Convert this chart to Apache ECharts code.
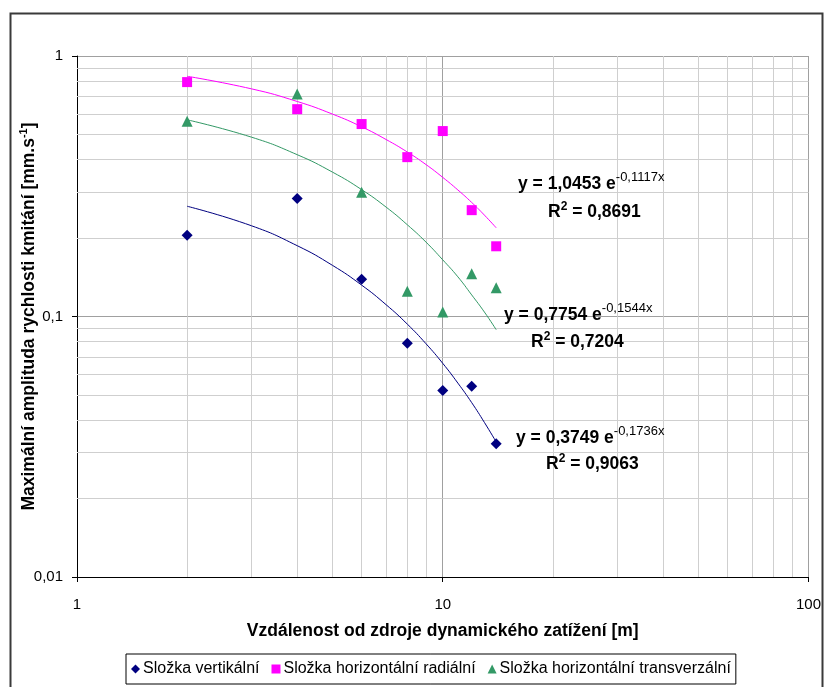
<!DOCTYPE html>
<html>
<head>
<meta charset="utf-8">
<script src="https://cdn.jsdelivr.net/npm/echarts@6/dist/echarts.min.js"></script>
<style>html,body{margin:0;padding:0;background:#fff;}#c{width:824px;height:687px;}</style>
</head>
<body>
<div id="c"></div>
<script>
// ---- data ----
const distances = [2, 4, 6, 8, 10, 12, 14];
const vertical = [0.205, 0.284, 0.139, 0.079, 0.052, 0.054, 0.0325];
const radial = [0.794, 0.625, 0.548, 0.409, 0.515, 0.256, 0.186];
const transverse = [0.562, 0.714, 0.300, 0.125, 0.104, 0.146, 0.129];

// trend curves (read along the drawn trendlines)
const trendX = [2, 3, 4, 5, 6, 7, 8, 9, 10, 11, 12, 13, 14];
const trendVertical = [0.265, 0.223, 0.187, 0.157, 0.132, 0.111, 0.0935, 0.0786, 0.0661, 0.0555, 0.0467, 0.0392, 0.033];
const trendRadial = [0.836, 0.748, 0.669, 0.598, 0.535, 0.478, 0.428, 0.383, 0.342, 0.306, 0.274, 0.245, 0.219];
const trendTransverse = [0.569, 0.488, 0.418, 0.358, 0.307, 0.263, 0.225, 0.193, 0.165, 0.142, 0.121, 0.104, 0.089];

const seriesNames = ['Složka vertikální', 'Složka horizontální radiální', 'Složka horizontální transverzální'];
const xMinorGrid = [2, 3, 4, 5, 6, 7, 8, 9, 20, 30, 40, 50, 60, 70, 80, 90];
const yMinorGrid = [0.02, 0.03, 0.04, 0.05, 0.06, 0.07, 0.08, 0.09, 0.2, 0.3, 0.4, 0.5, 0.6, 0.7, 0.8, 0.9];

const equations = [
  { a: '1,0453', b: '-0,1117x', r: '0,8691' },
  { a: '0,7754', b: '-0,1544x', r: '0,7204' },
  { a: '0,3749', b: '-0,1736x', r: '0,9063' }
];

const FONT = '"Liberation Sans", Arial, sans-serif';
const pair = (xs, ys) => xs.map((x, i) => [x, ys[i]]);
const fmt = v => String(v).replace('.', ',');

const chart = echarts.init(document.getElementById('c'), null, { renderer: 'canvas' });

const eqPos = [
  { x: 518, y: 184, rx: 548, ry: 212 },
  { x: 504, y: 315, rx: 531, ry: 342 },
  { x: 516, y: 438, rx: 546, ry: 464 }
];
const richEq = {
  m: { fontFamily: FONT, fontSize: 17.5, fontWeight: 'bold', fill: '#000' },
  s: { fontFamily: FONT, fontSize: 13, fill: '#000', padding: [0, 0, 13, 0] },
  r: { fontFamily: FONT, fontSize: 12, fontWeight: 'bold', fill: '#000', padding: [0, 0, 11, 0] }
};
const graphics = [{
  type: 'rect', left: 8, top: 11, shape: { width: 812, height: 690 },
  style: { fill: 'none', stroke: '#3a3a3a', lineWidth: 2 }, silent: true
}];
equations.forEach((e, i) => {
  const p = eqPos[i];
  graphics.push({
    type: 'text', x: p.x, y: p.y, z: 10,
    style: { text: '{m|y = ' + e.a + ' e}{s|' + e.b + '}', rich: richEq, verticalAlign: 'middle' }
  });
  graphics.push({
    type: 'text', x: p.rx, y: p.ry, z: 10,
    style: { text: '{m|R}{r|2}{m| = ' + e.r + '}', rich: richEq, verticalAlign: 'middle' }
  });
});

const option = {
  animation: false,
  backgroundColor: '#fff',
  grid: { left: 77, right: 14, top: 56, bottom: 110 },
  xAxis: {
    type: 'log', logBase: 10, min: 1, max: 100,
    name: 'Vzdálenost od zdroje dynamického zatížení [m]',
    nameLocation: 'middle', nameGap: 45,
    nameTextStyle: { fontFamily: FONT, fontSize: 17.5, fontWeight: 'bold', color: '#000' },
    axisLine: { show: true, onZero: false, lineStyle: { color: '#000', width: 1 } },
    axisTick: { show: true, length: 5, lineStyle: { color: '#000' } },
    axisLabel: { fontFamily: FONT, fontSize: 15, color: '#000', margin: 20, formatter: v => fmt(v) },
    splitLine: { show: true, lineStyle: { color: '#a0a0a0', width: 1 } }
  },
  yAxis: {
    type: 'log', logBase: 10, min: 0.01, max: 1,
    name: '{t|Maximální amplituda rychlosti kmitání [mm.s}{s|-1}{t|]}',
    nameLocation: 'middle', nameGap: 37, nameRotate: 90, nameMoveOverlap: false,
    nameTextStyle: {
      fontFamily: FONT, fontSize: 17.5, fontWeight: 'bold', color: '#000',
      rich: {
        t: { fontFamily: FONT, fontSize: 17.5, fontWeight: 'bold', color: '#000' },
        s: { fontFamily: FONT, fontSize: 11, fontWeight: 'bold', color: '#000', padding: [0, 0, 11, 0] }
      }
    },
    axisLine: { show: true, onZero: false, lineStyle: { color: '#000', width: 1 } },
    axisTick: { show: true, length: 5, lineStyle: { color: '#000' } },
    axisLabel: { fontFamily: FONT, fontSize: 15, color: '#000', margin: 14, formatter: v => fmt(v) },
    splitLine: { show: true, lineStyle: { color: '#a0a0a0', width: 1 } }
  },
  legend: {
    data: [
      { name: seriesNames[0], icon: 'diamond' },
      { name: seriesNames[1], icon: 'rect' },
      { name: seriesNames[2], icon: 'triangle' }
    ],
    left: 126, top: 654,
    itemWidth: 9, itemHeight: 9, itemGap: 12,
    padding: [7, 5, 7, 5],
    borderColor: '#000', borderWidth: 1, borderRadius: 0,
    textStyle: { fontFamily: FONT, fontSize: 16, color: '#000', padding: [0, 0, 0, -2] }
  },
  graphic: graphics,
  series: [
    {
      type: 'line', name: 'minorgrid', data: [], silent: true, z: 1,
      markLine: {
        silent: true, symbol: ['none', 'none'], animation: false, z: 1,
        label: { show: false },
        lineStyle: { color: '#cfcfcf', width: 1, type: 'solid' },
        emphasis: { disabled: true },
        data: xMinorGrid.map(v => ({ xAxis: v })).concat(yMinorGrid.map(v => ({ yAxis: v })))
      }
    },
    { type: 'line', name: 'trendV', data: pair(trendX, trendVertical), smooth: true, showSymbol: false, z: 3,
      lineStyle: { color: '#000080', width: 1 }, itemStyle: { color: '#000080' }, silent: true },
    { type: 'line', name: 'trendR', data: pair(trendX, trendRadial), smooth: true, showSymbol: false, z: 3,
      lineStyle: { color: '#ff00ff', width: 1 }, itemStyle: { color: '#ff00ff' }, silent: true },
    { type: 'line', name: 'trendT', data: pair(trendX, trendTransverse), smooth: true, showSymbol: false, z: 3,
      lineStyle: { color: '#339966', width: 1 }, itemStyle: { color: '#339966' }, silent: true },
    { type: 'scatter', name: seriesNames[0], data: pair(distances, vertical), symbol: 'diamond', symbolSize: 11, z: 6,
      itemStyle: { color: '#000080', opacity: 1 } },
    { type: 'scatter', name: seriesNames[1], data: pair(distances, radial), symbol: 'rect', symbolSize: 10, z: 6,
      itemStyle: { color: '#ff00ff', opacity: 1 } },
    { type: 'scatter', name: seriesNames[2], data: pair(distances, transverse), symbol: 'triangle', symbolSize: 11, z: 6,
      itemStyle: { color: '#339966', opacity: 1 } }
  ]
};
chart.setOption(option);
</script>
</body>
</html>
